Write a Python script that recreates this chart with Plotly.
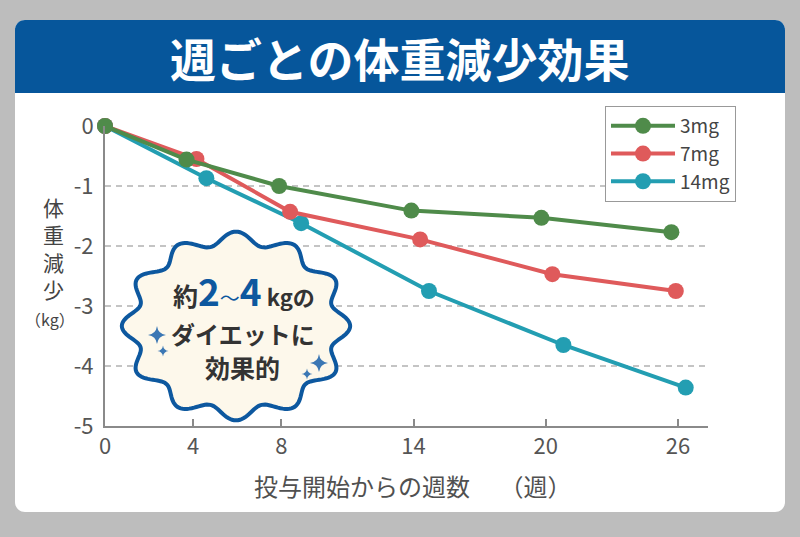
import numpy as np
import plotly.graph_objects as go

# ---------------- data ----------------
series_names = ["3mg", "7mg", "14mg"]
x_3mg = [0, 3.7, 7.9, 13.9, 19.8, 25.7]
y_3mg = [0, -0.56, -1.0, -1.41, -1.53, -1.77]
x_7mg = [0, 4.15, 8.4, 14.3, 20.3, 25.9]
y_7mg = [0, -0.55, -1.43, -1.89, -2.47, -2.75]
x_14mg = [0, 4.6, 8.9, 14.7, 20.8, 26.35]
y_14mg = [0, -0.87, -1.62, -2.75, -3.65, -4.36]
x_ticks = [0, 4, 8, 14, 20, 26]
y_ticks = [0, -1, -2, -3, -4, -5]
colors = {"3mg": "#4f8b4a", "7mg": "#df5a5b", "14mg": "#239eb2"}

title_text = "週ごとの体重減少効果"
x_title = "投与開始からの週数　 （週）"
y_title_chars = ["体", "重", "減", "少"]
y_unit = "（kg）"

FONT = "Noto Sans CJK JP"
W, H = 800, 537
L, R, T, B = 105, 708, 126, 426  # plot area in pixels


def PX(px):
    return (px - L) / (R - L)


def PY(py):
    return (B - py) / (B - T)


def path_from(points, close=True):
    s = "M " + " L ".join(f"{PX(x):.5f},{PY(y):.5f}" for x, y in points)
    return s + (" Z" if close else "")


def rounded_rect(x0, y0, x1, y1, r, top_only=False):
    pts = []
    def arc(cx, cy, a0, a1):
        for a in np.linspace(a0, a1, 10):
            pts.append((cx + r * np.cos(a), cy - r * np.sin(a)))
    arc(x1 - r, y0 + r, np.pi / 2, 0)           # top-right
    if top_only:
        pts.append((x1, y1)); pts.append((x0, y1))
    else:
        arc(x1 - r, y1 - r, 0, -np.pi / 2)      # bottom-right
        arc(x0 + r, y1 - r, -np.pi / 2, -np.pi)  # bottom-left
    arc(x0 + r, y0 + r, np.pi, np.pi / 2)       # top-left
    return pts


def sparkle(cx, cy, rad):
    c = rad * 0.12
    d = (
        f"M {PX(cx + rad):.5f},{PY(cy):.5f} "
        f"Q {PX(cx + c):.5f},{PY(cy - c):.5f} {PX(cx):.5f},{PY(cy - rad):.5f} "
        f"Q {PX(cx - c):.5f},{PY(cy - c):.5f} {PX(cx - rad):.5f},{PY(cy):.5f} "
        f"Q {PX(cx - c):.5f},{PY(cy + c):.5f} {PX(cx):.5f},{PY(cy + rad):.5f} "
        f"Q {PX(cx + c):.5f},{PY(cy + c):.5f} {PX(cx + rad):.5f},{PY(cy):.5f} Z"
    )
    return dict(type="path", xref="paper", yref="paper", path=d,
                fillcolor="#3b77b4", line=dict(width=0), layer="above")


fig = go.Figure()

traces = [("14mg", x_14mg, y_14mg, 3), ("7mg", x_7mg, y_7mg, 2), ("3mg", x_3mg, y_3mg, 1)]
for name, xs, ys, rank in traces:
    fig.add_trace(go.Scatter(
        x=xs, y=ys, name=name, mode="lines+markers",
        line=dict(color=colors[name], width=4),
        marker=dict(color=colors[name], size=16),
        cliponaxis=False, legendgroup=name, legendrank=rank,
    ))

shapes = []
# white card
shapes.append(dict(type="path", xref="paper", yref="paper",
                   path=path_from(rounded_rect(15, 20, 785, 512, 10)),
                   fillcolor="white", line=dict(width=0), layer="below"))
# header band
shapes.append(dict(type="path", xref="paper", yref="paper",
                   path=path_from(rounded_rect(15, 20, 785, 93, 10, top_only=True)),
                   fillcolor="#06569b", line=dict(width=0), layer="below"))
# wavy badge
th = np.linspace(0, 2 * np.pi, 361)
k = 0.072
cx, cy, rx, ry = 236, 326, 106.5, 88
badge = [(cx + rx * (1 + k * np.cos(12 * t)) * np.cos(t),
          cy - ry * (1 + k * np.cos(12 * t)) * np.sin(t)) for t in th]
shapes.append(dict(type="path", xref="paper", yref="paper", path=path_from(badge),
                   fillcolor="#fdf8eb", line=dict(color="#0d589f", width=4), layer="above"))
shapes += [sparkle(157, 335, 9), sparkle(163, 351, 5.5),
           sparkle(319, 363, 9), sparkle(307, 374, 5.5)]

annotations = []
annotations.append(dict(xref="paper", yref="paper", x=PX(400), y=PY(57), text=f"<b>{title_text}</b>",
                        showarrow=False, font=dict(family=FONT, size=46, color="white"),
                        xanchor="center", yanchor="middle"))
annotations.append(dict(xref="paper", yref="paper", x=PX(412), y=PY(485), text=x_title,
                        showarrow=False, font=dict(family=FONT, size=24, color="#505050"),
                        xanchor="center", yanchor="middle"))
annotations.append(dict(xref="paper", yref="paper", x=PX(53), y=PY(248), text="<br>".join(y_title_chars),
                        showarrow=False, font=dict(family=FONT, size=21, color="#444444"),
                        xanchor="center", yanchor="middle"))
annotations.append(dict(xref="paper", yref="paper", x=PX(50), y=PY(319), text=y_unit,
                        showarrow=False, font=dict(family=FONT, size=16, color="#444444"),
                        xanchor="center", yanchor="middle"))
blue = "#0d589f"
line1 = ("<b>約</b>"
         f"<span style='font-size:37px;color:{blue}'><b>2</b></span>"
         f"<span style='font-size:20px;color:{blue}'>～</span>"
         f"<span style='font-size:37px;color:{blue}'><b>4</b></span>"
         "<span style='font-size:22px'><b> kgの</b></span>")
annotations.append(dict(xref="paper", yref="paper", x=PX(244), y=PY(290), text=line1,
                        showarrow=False, font=dict(family=FONT, size=25, color="#333333"),
                        xanchor="center", yanchor="middle"))
annotations.append(dict(xref="paper", yref="paper", x=PX(243), y=PY(333), text="<b>ダイエットに</b>",
                        showarrow=False, font=dict(family=FONT, size=24, color="#333333"),
                        xanchor="center", yanchor="middle"))
annotations.append(dict(xref="paper", yref="paper", x=PX(242), y=PY(367), text="<b>効果的</b>",
                        showarrow=False, font=dict(family=FONT, size=25, color="#333333"),
                        xanchor="center", yanchor="middle"))

fig.update_layout(
    width=W, height=H,
    margin=dict(l=L, r=W - R, t=T, b=H - B, pad=0),
    paper_bgcolor="#bdbdbd",
    plot_bgcolor="rgba(0,0,0,0)",
    font=dict(family=FONT, color="#555555"),
    showlegend=True,
    legend=dict(x=PX(605), y=PY(106), xanchor="left", yanchor="top",
                bgcolor="white", bordercolor="#999999", borderwidth=1,
                font=dict(family=FONT, size=19, color="#444444"),
                itemwidth=64, tracegroupgap=0),
    shapes=shapes,
    annotations=annotations,
)
fig.update_xaxes(range=[0, (R - L) / ((678 - 105) / 26)], tickvals=x_ticks,
                 ticktext=[str(v) for v in x_ticks],
                 showgrid=False, zeroline=False, showline=True, linecolor="#8a8a8a", linewidth=2,
                 ticks="inside", ticklen=7, tickwidth=1.5, tickcolor="#8a8a8a",
                 tickfont=dict(family=FONT, size=22, color="#555555"))
fig.update_yaxes(range=[-5, 0], tickvals=y_ticks, ticktext=[str(v) for v in y_ticks],
                 showgrid=True, gridcolor="#c4c4c4", griddash="6px,5px", gridwidth=1.5,
                 zeroline=False, showline=True, linecolor="#8a8a8a", linewidth=2,
                 ticks="", ticklabelstandoff=5,
                 tickfont=dict(family=FONT, size=22, color="#555555"))

fig.write_html("out.html")
